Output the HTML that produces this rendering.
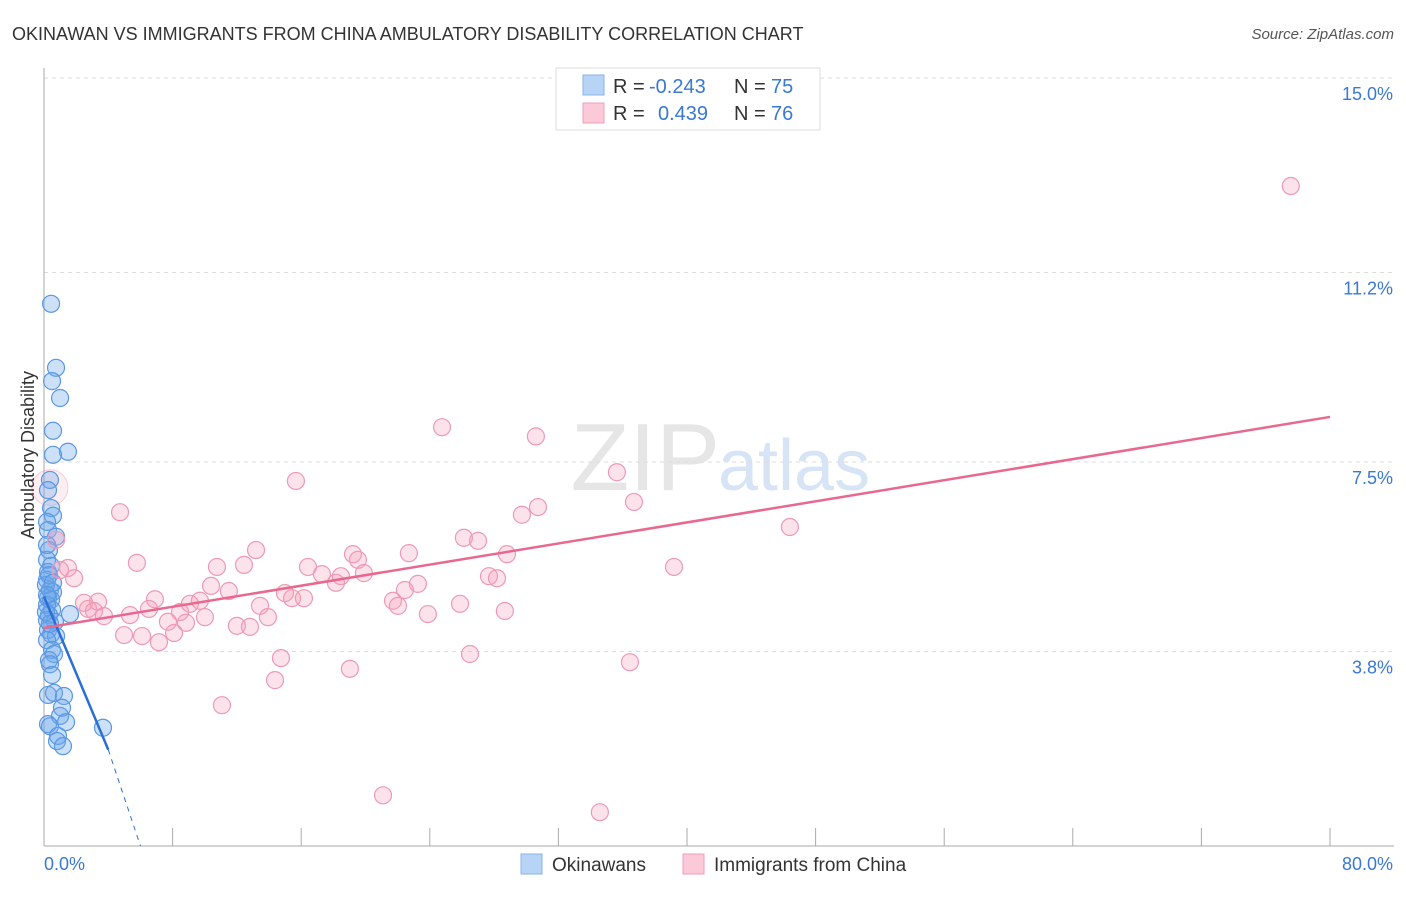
<!DOCTYPE html>
<html><head><meta charset="utf-8"><style>
body{margin:0;background:#fff;font-family:"Liberation Sans",sans-serif;}
svg text{font-family:"Liberation Sans",sans-serif;}
</style></head><body>
<svg id="chart" width="1406" height="892">
<text x="12" y="40" font-size="18" fill="#333">OKINAWAN VS IMMIGRANTS FROM CHINA AMBULATORY DISABILITY CORRELATION CHART</text>
<text x="1394" y="39" font-size="15" fill="#555" font-style="italic" text-anchor="end">Source: ZipAtlas.com</text>
<text x="720" y="490" font-size="96" fill="#e6e6e6" text-anchor="end" font-family="Liberation Serif">ZIP</text>
<text x="718" y="490" font-size="72" fill="#d6e4f5">atlas</text>
<g id="grid"></g>
<g id="axes"></g>
<g id="marks"></g>
<text transform="translate(34,455) rotate(-90)" font-size="18" fill="#333" text-anchor="middle">Ambulatory Disability</text>
<g>
<rect x="556" y="68" width="264" height="62" fill="#fff" stroke="#ddd"/>
<rect x="583" y="75" width="21" height="20" fill="#b7d3f6" stroke="#8ab4ea"/>
<rect x="583" y="103" width="21" height="20" fill="#fbc9d8" stroke="#f0a0bb"/>
<text x="613" y="93" font-size="20" fill="#333">R = </text><text x="649" y="93" font-size="20" fill="#3a78d4">-0.243</text>
<text x="734" y="93" font-size="20" fill="#333">N = </text><text x="771" y="93" font-size="20" fill="#3a78d4">75</text>
<text x="613" y="120" font-size="20" fill="#333">R = </text><text x="658" y="120" font-size="20" fill="#3a78d4">0.439</text>
<text x="734" y="120" font-size="20" fill="#333">N = </text><text x="771" y="120" font-size="20" fill="#3a78d4">76</text>
</g>
<g>
<rect x="521" y="854" width="21" height="20" fill="#b7d3f6" stroke="#8ab4ea"/>
<text x="552" y="871" font-size="19" fill="#333">Okinawans</text>
<rect x="683" y="854" width="21" height="20" fill="#fbc9d8" stroke="#f0a0bb"/>
<text x="714" y="871" font-size="19" fill="#333">Immigrants from China</text>
</g>
</svg>
<script>
const yTicks=[3.8,7.5,11.2,15.0];
const yTickLabels=["3.8%","7.5%","11.2%","15.0%"];
const xTickCount=10;
const xLabels=["0.0%","80.0%"];
const blueX=[0.44,0.75,0.5,1.0,0.56,1.49,0.56,0.37,0.25,0.44,0.56,0.19,0.25,0.75,0.31,0.19,0.44,0.25,0.19,0.37,0.56,0.25,0.44,0.19,0.5,0.31,1.62,0.19,0.68,0.25,0.44,0.75,0.19,0.5,0.62,0.31,0.37,0.5,0.25,0.62,1.24,1.12,1.0,1.37,0.25,0.37,0.87,0.81,1.18,3.67,0.19,0.12,0.12,0.31,0.37,0.56,0.19];
const blueY=[10.59,9.34,9.08,8.75,8.11,7.70,7.64,7.15,6.95,6.60,6.45,6.33,6.17,6.04,5.78,5.59,5.47,5.35,5.20,5.00,4.96,4.84,4.81,4.71,4.61,4.51,4.53,4.41,4.38,4.22,4.14,4.10,4.02,3.83,3.75,3.63,3.55,3.34,2.95,2.99,2.93,2.70,2.54,2.42,2.38,2.34,2.15,2.05,1.95,2.31,5.88,5.10,4.57,5.29,4.34,5.14,4.90];
const pinkX=[77.56,24.76,30.6,35.64,15.67,4.73,30.73,29.73,36.7,46.4,0.75,26.12,27.0,28.8,22.7,19.22,13.19,5.78,10.76,12.44,19.53,16.42,1.0,1.49,1.87,17.29,18.47,18.16,19.9,39.19,27.68,28.18,23.26,22.45,10.39,11.5,6.9,2.49,3.36,14.99,15.43,16.17,21.71,22.02,25.88,28.67,9.08,9.7,6.53,8.46,2.74,3.11,3.73,5.35,13.44,13.93,10.01,23.88,8.83,7.71,12.0,12.81,4.98,6.1,7.15,8.09,14.74,26.5,19.03,36.45,14.37,11.07,21.09,34.58];
const pinkY=[12.89,8.18,8.0,7.30,7.13,6.52,6.62,6.47,6.72,6.23,5.98,6.02,5.96,5.70,5.72,5.70,5.78,5.53,5.45,5.49,5.59,5.45,5.39,5.43,5.23,5.31,5.27,5.14,5.33,5.45,5.27,5.23,5.12,5.00,5.08,4.98,4.82,4.75,4.77,4.94,4.84,4.84,4.79,4.69,4.73,4.59,4.73,4.79,4.63,4.57,4.63,4.59,4.49,4.51,4.69,4.47,4.47,4.53,4.36,4.38,4.30,4.28,4.12,4.10,3.98,4.16,3.67,3.75,3.46,3.59,3.24,2.75,0.99,0.66];
const blueTrend=[[0,4.87],[4.0,1.88],[6.0,0.0]];
const pinkTrend=[[0,4.26],[80,8.38]];
const X=v=>44+v/80*1286;
const Y=v=>846-v/15*768;
const NS="http://www.w3.org/2000/svg";
function mk(tag,attrs,parent){const e=document.createElementNS(NS,tag);for(const k in attrs)e.setAttribute(k,attrs[k]);document.getElementById(parent).appendChild(e);return e;}
yTicks.forEach((t,i)=>{
 const g=mk('line',{x1:44,x2:1394,y1:Y(t),y2:Y(t),stroke:'#ddd','stroke-dasharray':'4 4'},'grid');
 
 
 const l=mk('text',{x:1393,y:Y(t)+22,'font-size':18,fill:'#3a78d4','text-anchor':'end'},'axes');
 l.textContent=yTickLabels[i];
 
 
});
const ax=mk('line',{x1:44,x2:44,y1:68,y2:846,stroke:'#aaa'},'axes');


const bx=mk('line',{x1:44,x2:1394,y1:846,y2:846,stroke:'#aaa'},'axes');


for(let i=1;i<=xTickCount;i++){
 const t=mk('line',{x1:X(i*8),x2:X(i*8),y1:828,y2:846,stroke:'#aaa'},'axes');
 
 
}
const xl0=mk('text',{x:44,y:870,'font-size':18,fill:'#3a78d4'},'axes');xl0.textContent=xLabels[0];


const xl1=mk('text',{x:1393,y:870,'font-size':18,fill:'#3a78d4','text-anchor':'end'},'axes');xl1.textContent=xLabels[1];


const big1=mk('circle',{cx:X(0.37),cy:Y(7.0),r:18,fill:'rgba(240,140,170,0.15)',stroke:'rgba(236,143,176,0.4)'},'marks');


blueX.forEach((x,i)=>{
 const c=mk('circle',{cx:X(x),cy:Y(blueY[i]),r:8.5,fill:'rgba(110,165,235,0.35)',stroke:'#5a98e4','stroke-width':1.2},'marks');
 
 
});
pinkX.forEach((x,i)=>{
 const c=mk('circle',{cx:X(x),cy:Y(pinkY[i]),r:8.5,fill:'rgba(245,160,185,0.3)',stroke:'#ee9ab6','stroke-width':1.2},'marks');
 
 
});
const bl=mk('line',{x1:X(blueTrend[0][0]),y1:Y(blueTrend[0][1]),x2:X(blueTrend[1][0]),y2:Y(blueTrend[1][1]),stroke:'#2a6fd6','stroke-width':2.5},'marks');


const bd=mk('line',{x1:X(blueTrend[1][0]),y1:Y(blueTrend[1][1]),x2:X(blueTrend[2][0]),y2:Y(blueTrend[2][1]),stroke:'#2a6fd6','stroke-width':1,'stroke-dasharray':'5 5'},'marks');


const pl=mk('line',{x1:X(pinkTrend[0][0]),y1:Y(pinkTrend[0][1]),x2:X(pinkTrend[1][0]),y2:Y(pinkTrend[1][1]),stroke:'#e8688f','stroke-width':2.5},'marks');


</script>
</body></html>
